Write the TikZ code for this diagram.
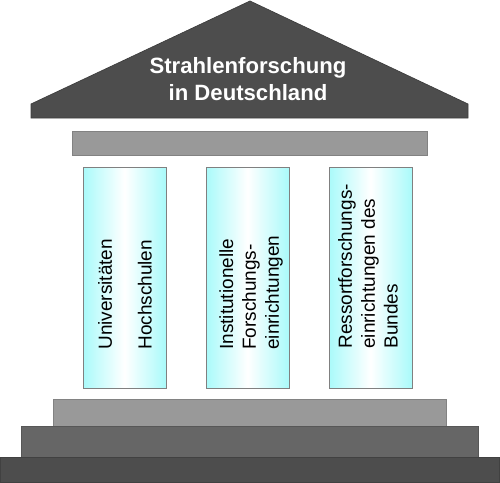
\documentclass[tikz,border=0pt]{standalone}
\usepackage{fontspec}
\setmainfont{Liberation Sans}
\usepackage{tikz}
\usepackage{xcolor}
\definecolor{roofgray}{HTML}{4D4D4D}
\definecolor{lightgray}{HTML}{999999}
\definecolor{midgray}{HTML}{666666}
\definecolor{pillarcyan}{RGB}{170,250,250}
\tikzset{
    roof-shape/.style = {draw=roofgray!80!black, fill=roofgray, thin},
    stone-box/.style = {draw=#1!85!black, fill=#1, thin},
    column-box/.style = {draw=gray, thin, left color=pillarcyan, right color=pillarcyan, middle color=white},
    title-text/.style = {text=white, font=\fontsize{12.6}{15}\selectfont\bfseries, align=center, inner sep=0pt},
    column-text/.style = {rotate=90, anchor=west, align=left, font=\fontsize{10.8}{13}\selectfont, inner sep=0pt},
}

\begin{document}
\begin{tikzpicture}[x=0.02cm, y=-0.02cm]
\useasboundingbox (0,0) rectangle (500,483);
% roof and beam
\draw[roof-shape] (250,1) -- (468,104) -- (468,118) -- (31,118) -- (31,104) -- cycle;
\node[title-text] (title) at (248,79) {Strahlenforschung\\in Deutschland};
\draw[stone-box=lightgray] (72,131) rectangle (427,155);
% columns
\foreach \x in {83,206,329}
    \draw[column-box] (\x,167) rectangle +(83,221);
\node[column-text] (unis) at (125,350) {Universitäten\\[9.7pt]Hochschulen};
\node[column-text] (institute) at (251,350) {Institutionelle\\Forschungs-\\einrichtungen};
\node[column-text] (ressort) at (368,349) {Ressortforschungs-\\einrichtungen des\\Bundes};
% stairs
\draw[stone-box=lightgray] (53,399) rectangle (446,426);
\draw[stone-box=midgray] (21,426) rectangle (478,457);
\draw[stone-box=roofgray] (0.5,457) rectangle (499.5,482.5);
\end{tikzpicture}
\end{document}
